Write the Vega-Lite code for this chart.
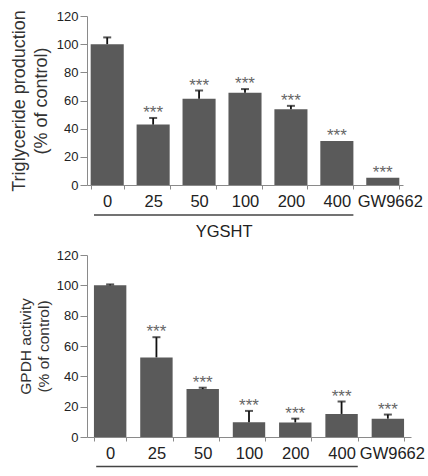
{
  "$schema": "https://vega.github.io/schema/vega-lite/v6.json",
  "padding": {"left": 10, "top": 9, "right": 0, "bottom": 0},
  "background": "white",
  "spacing": 8,
  "config": {
    "font": "Liberation Sans",
    "view": {"stroke": null},
    "axis": {
      "grid": false,
      "domainColor": "#8a8a8a",
      "tickColor": "#8a8a8a",
      "labelColor": "#222222",
      "titleColor": "#333333",
      "titleFontWeight": "normal",
      "labelFont": "Liberation Sans",
      "titleFont": "Liberation Sans",
      "labelOverlap": false
    },
    "axisY": {"labelFontSize": 13, "tickSize": 7, "labelPadding": 2}
  },
  "datasets": {
    "tg": [
      {"dose": "0", "value": 100, "upper": 104.8, "sig": ""},
      {"dose": "25", "value": 42.9, "upper": 47.6, "sig": "***"},
      {"dose": "50", "value": 61.2, "upper": 67.1, "sig": "***"},
      {"dose": "100", "value": 65.5, "upper": 68.1, "sig": "***"},
      {"dose": "200", "value": 53.8, "upper": 56.2, "sig": "***"},
      {"dose": "400", "value": 31.2, "upper": 31.2, "sig": "***"},
      {"dose": "GW9662", "value": 5.2, "upper": 5.2, "sig": "***"}
    ],
    "gpdh": [
      {"dose": "0", "value": 100, "upper": 100.6, "sig": ""},
      {"dose": "25", "value": 52.5, "upper": 65.8, "sig": "***"},
      {"dose": "50", "value": 31.6, "upper": 32.5, "sig": "***"},
      {"dose": "100", "value": 9.8, "upper": 17.2, "sig": "***"},
      {"dose": "200", "value": 9.6, "upper": 12.1, "sig": "***"},
      {"dose": "400", "value": 15.2, "upper": 23.4, "sig": "***"},
      {"dose": "GW9662", "value": 12.1, "upper": 14.8, "sig": "***"}
    ],
    "grp": [{"label": "YGSHT"}]
  },
  "vconcat": [
    {
      "width": 316,
      "height": 169,
      "data": {"name": "tg"},
      "encoding": {
        "x": {
          "field": "dose", "type": "nominal", "sort": null,
          "scale": {"paddingInner": 0.28, "paddingOuter": 0.08},
          "axis": {
            "title": null, "labelAngle": 0, "labelFontSize": 16.5, "tickBand": "extent",
            "tickSize": 4, "labelPadding": 4,
            "labelOffset": {"condition": {"test": "datum.value == 'GW9662'", "value": 7}, "value": 0}
          }
        }
      },
      "layer": [
        {
          "mark": {"type": "bar", "color": "#5a5a5a"},
          "encoding": {
            "y": {
              "field": "value", "type": "quantitative",
              "scale": {"domain": [0, 120], "nice": false},
              "axis": {"title": ["Triglyceride production", "(% of control)"], "titleFontSize": 18, "titleLineHeight": 22, "titlePadding": 6, "values": [0, 20, 40, 60, 80, 100, 120]}
            }
          }
        },
        {
          "transform": [{"filter": "datum.upper > datum.value"}],
          "mark": {"type": "rule", "color": "#111111", "strokeWidth": 1.8},
          "encoding": {
            "y": {"field": "value", "type": "quantitative", "axis": {"title": ["Triglyceride production", "(% of control)"], "titleFontSize": 18, "titleLineHeight": 22, "titlePadding": 6, "values": [0, 20, 40, 60, 80, 100, 120]}},
            "y2": {"field": "upper"}
          }
        },
        {
          "transform": [{"filter": "datum.upper > datum.value"}],
          "mark": {"type": "tick", "color": "#111111", "thickness": 2, "size": 8},
          "encoding": {
            "y": {"field": "upper", "type": "quantitative", "axis": {"title": ["Triglyceride production", "(% of control)"], "titleFontSize": 18, "titleLineHeight": 22, "titlePadding": 6, "values": [0, 20, 40, 60, 80, 100, 120]}}
          }
        },
        {
          "mark": {"type": "text", "color": "#666666", "fontSize": 17, "baseline": "alphabetic", "dy": 0},
          "encoding": {
            "y": {"field": "upper", "type": "quantitative", "axis": {"title": ["Triglyceride production", "(% of control)"], "titleFontSize": 18, "titleLineHeight": 22, "titlePadding": 6, "values": [0, 20, 40, 60, 80, 100, 120]}},
            "text": {"field": "sig"}
          }
        },
        {
          "data": {"name": "grp"},
          "mark": {"type": "rule", "color": "#444444", "strokeWidth": 1.5},
          "encoding": {
            "x": {"datum": "0", "bandPosition": 0.1},
            "x2": {"datum": "400", "bandPosition": 1},
            "y": {"datum": -21.3, "type": "quantitative", "axis": {"title": ["Triglyceride production", "(% of control)"], "titleFontSize": 18, "titleLineHeight": 22, "titlePadding": 6, "values": [0, 20, 40, 60, 80, 100, 120]}}
          }
        },
        {
          "data": {"name": "grp"},
          "mark": {"type": "text", "color": "#222222", "fontSize": 16.5, "baseline": "middle"},
          "encoding": {
            "x": {"datum": "100", "bandPosition": -0.13},
            "y": {"datum": -33.5, "type": "quantitative", "axis": {"title": ["Triglyceride production", "(% of control)"], "titleFontSize": 18, "titleLineHeight": 22, "titlePadding": 6, "values": [0, 20, 40, 60, 80, 100, 120]}},
            "text": {"field": "label"}
          }
        }
      ]
    },
    {
      "width": 324,
      "height": 182,
      "data": {"name": "gpdh"},
      "encoding": {
        "x": {
          "field": "dose", "type": "nominal", "sort": null,
          "scale": {"paddingInner": 0.3, "paddingOuter": 0.15},
          "axis": {
            "title": null, "labelAngle": 0, "labelFontSize": 16.5, "tickBand": "extent",
            "tickSize": 4, "labelPadding": 4,
            "labelOffset": {"condition": {"test": "datum.value == 'GW9662'", "value": 4}, "value": 0}
          }
        }
      },
      "layer": [
        {
          "mark": {"type": "bar", "color": "#5a5a5a"},
          "encoding": {
            "y": {
              "field": "value", "type": "quantitative",
              "scale": {"domain": [0, 120], "nice": false},
              "axis": {"title": ["GPDH activity", "(% of control)"], "titleFontSize": 15.5, "titleLineHeight": 18, "titlePadding": 5, "values": [0, 20, 40, 60, 80, 100, 120]}
            }
          }
        },
        {
          "transform": [{"filter": "datum.upper > datum.value"}],
          "mark": {"type": "rule", "color": "#111111", "strokeWidth": 1.8},
          "encoding": {
            "y": {"field": "value", "type": "quantitative", "axis": {"title": ["GPDH activity", "(% of control)"], "titleFontSize": 15.5, "titleLineHeight": 18, "titlePadding": 5, "values": [0, 20, 40, 60, 80, 100, 120]}},
            "y2": {"field": "upper"}
          }
        },
        {
          "transform": [{"filter": "datum.upper > datum.value"}],
          "mark": {"type": "tick", "color": "#111111", "thickness": 2, "size": 8},
          "encoding": {
            "y": {"field": "upper", "type": "quantitative", "axis": {"title": ["GPDH activity", "(% of control)"], "titleFontSize": 15.5, "titleLineHeight": 18, "titlePadding": 5, "values": [0, 20, 40, 60, 80, 100, 120]}}
          }
        },
        {
          "mark": {"type": "text", "color": "#666666", "fontSize": 17, "baseline": "alphabetic", "dy": 0},
          "encoding": {
            "y": {"field": "upper", "type": "quantitative", "axis": {"title": ["GPDH activity", "(% of control)"], "titleFontSize": 15.5, "titleLineHeight": 18, "titlePadding": 5, "values": [0, 20, 40, 60, 80, 100, 120]}},
            "text": {"field": "sig"}
          }
        },
        {
          "data": {"name": "grp"},
          "mark": {"type": "rule", "color": "#444444", "strokeWidth": 1.5},
          "encoding": {
            "x": {"datum": "0", "bandPosition": 0.07},
            "x2": {"datum": "400", "bandPosition": 1},
            "y": {"datum": -19.5, "type": "quantitative", "axis": {"title": ["GPDH activity", "(% of control)"], "titleFontSize": 15.5, "titleLineHeight": 18, "titlePadding": 5, "values": [0, 20, 40, 60, 80, 100, 120]}}
          }
        },
        {
          "data": {"name": "grp"},
          "mark": {"type": "text", "color": "#222222", "fontSize": 16.5, "baseline": "middle"},
          "encoding": {
            "x": {"datum": "100", "bandPosition": -0.18},
            "y": {"datum": -34.5, "type": "quantitative", "axis": {"title": ["GPDH activity", "(% of control)"], "titleFontSize": 15.5, "titleLineHeight": 18, "titlePadding": 5, "values": [0, 20, 40, 60, 80, 100, 120]}},
            "text": {"field": "label"}
          }
        }
      ]
    }
  ]
}
